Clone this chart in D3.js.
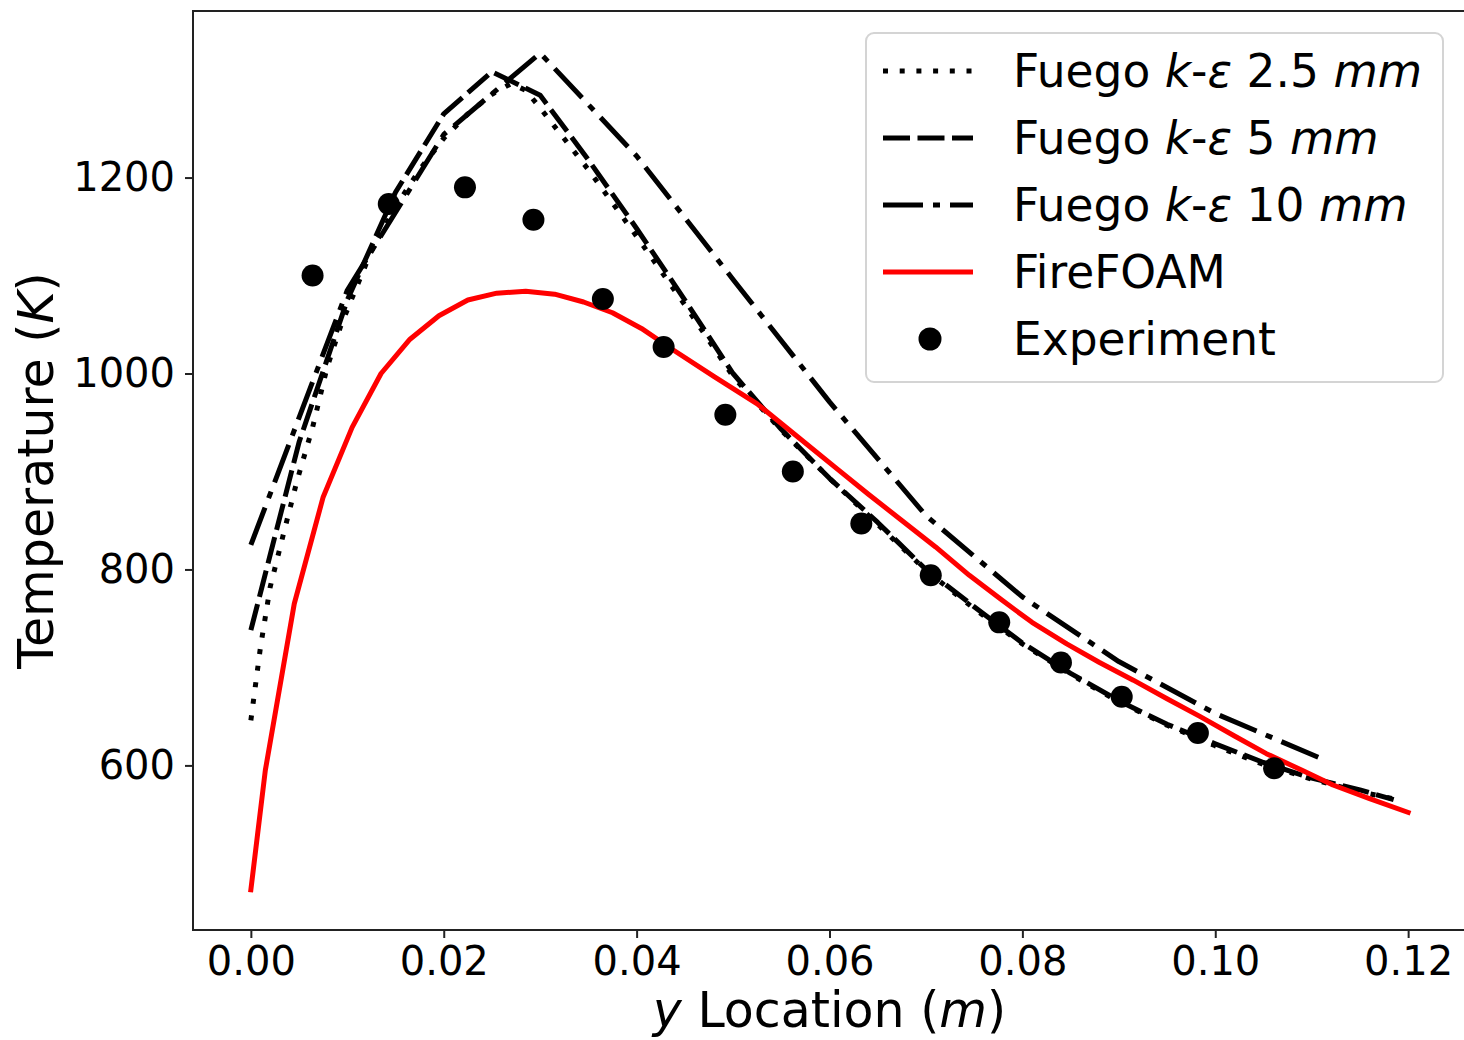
<html>
<head>
<script src="https://d3js.org/d3.v7.min.js"></script>
<style>
  body { margin: 0; background: #fff; }
  svg text { font-family: "DejaVu Sans", sans-serif; fill: #000; }
  .axis .domain { display: none; }
  .axis line { stroke: #222; stroke-width: 2; }
</style>
</head>
<body>
<svg id="chart" width="1464" height="1040"></svg>
<script>
// y location (m), temperature (K)
const fuego25 = [[0,646],[0.001,721],[0.002,782],[0.0034,837],[0.0048,891],[0.0064,945],[0.0079,1006],[0.0093,1048],[0.0107,1082],[0.0125,1125],[0.015,1170],[0.0175,1208],[0.02,1240],[0.0225,1265],[0.025,1285],[0.027,1296],[0.0285,1289],[0.03,1271],[0.035,1208],[0.04,1140],[0.045,1070],[0.05,997],[0.055,942],[0.06,893],[0.065,846],[0.07,799],[0.075,760],[0.08,724],[0.085,693],[0.09,665],[0.095,641],[0.1,620],[0.105,601],[0.11,586],[0.115,573],[0.1185,566]];
const fuego5 = [[0,738],[0.005,930],[0.01,1075],[0.015,1185],[0.02,1265],[0.025,1308],[0.03,1284],[0.035,1218],[0.04,1148],[0.045,1075],[0.05,1000],[0.055,943],[0.06,893],[0.065,848],[0.07,800],[0.075,762],[0.08,725],[0.085,694],[0.09,666],[0.095,642],[0.1,622],[0.105,603],[0.11,587],[0.115,575],[0.1185,565]];
const fuego10 = [[0,825],[0.01,1085],[0.02,1244],[0.03,1327],[0.04,1222],[0.05,1096],[0.06,971],[0.07,855],[0.08,772],[0.09,706],[0.1,653],[0.111,607]];
const fireFoam = [[0,473],[0.0015,595],[0.0045,765],[0.0075,874],[0.0105,945],[0.0135,1000],[0.0165,1035],[0.0195,1059],[0.0225,1075],[0.0255,1082],[0.0285,1084],[0.0315,1081],[0.0345,1073],[0.0375,1062],[0.0405,1046],[0.0438,1024],[0.048,997],[0.0525,969],[0.0565,937],[0.0605,905],[0.064,877],[0.0675,850],[0.071,823],[0.0745,794],[0.0777,770],[0.081,746],[0.0846,724],[0.088,705],[0.0915,687],[0.095,668],[0.0984,650],[0.102,630],[0.1053,612],[0.109,595],[0.1122,580],[0.116,566],[0.12,552]];
const experiment = [[0.0064,1100],[0.0143,1173],[0.0222,1190],[0.0293,1157],[0.0365,1076],[0.0428,1027],[0.0492,958],[0.0562,900],[0.0633,847],[0.0705,794],[0.0776,746],[0.084,705],[0.0903,670],[0.0982,633],[0.1061,597]];

const xTicks = [0, 0.02, 0.04, 0.06, 0.08, 0.10, 0.12];
const yTicks = [600, 800, 1000, 1200];

const svg = d3.select("svg#chart");
const margin = { top: 11, right: -2, bottom: 110, left: 193 };
const width = +svg.attr("width");
const height = +svg.attr("height");
const chartWidth = width - margin.left - margin.right;
const chartHeight = height - margin.top - margin.bottom;

const x = d3.scaleLinear().domain([-0.006, 0.126]).range([0, chartWidth]);
const y = d3.scaleLinear().domain([432, 1370]).range([chartHeight, 0]);

const chart = svg.append("g").attr("transform", `translate(${margin.left},${margin.top})`);

// axes
chart.append("g")
    .attr("class", "axis")
    .attr("transform", `translate(0,${chartHeight})`)
    .call(d3.axisBottom(x).tickValues(xTicks).tickFormat(d3.format(".2f")).tickSize(8).tickPadding(9))
    .selectAll("text").style("font-size", "40px");

chart.append("g")
    .attr("class", "axis")
    .call(d3.axisLeft(y).tickValues(yTicks).tickFormat(d3.format("d")).tickSize(8).tickPadding(10))
    .selectAll("text").style("font-size", "40px");

// lines
const line = d3.line().x(d => x(d[0])).y(d => y(d[1]));

const series = [
    { name: "25", data: fuego25, color: "#000", dash: "5,11.7", cap: "butt" },
    { name: "5", data: fuego5, color: "#000", dash: "27,7.5", cap: "butt" },
    { name: "10", data: fuego10, color: "#000", dash: "40,10,7,10", cap: "butt" },
    { name: "ff", data: fireFoam, color: "#ff0000", dash: null, cap: "square" }
];

chart.selectAll("path.series")
    .data(series)
    .join("path")
    .attr("class", "series")
    .attr("fill", "none")
    .attr("stroke", d => d.color)
    .attr("stroke-width", 5)
    .attr("stroke-linecap", d => d.cap)
    .attr("stroke-linejoin", "round")
    .attr("stroke-dasharray", d => d.dash)
    .attr("d", d => line(d.data));

chart.selectAll("circle.exp")
    .data(experiment)
    .join("circle")
    .attr("class", "exp")
    .attr("r", 11)
    .attr("fill", "#000")
    .attr("cx", d => x(d[0]))
    .attr("cy", d => y(d[1]));

// frame
chart.append("rect")
    .attr("width", chartWidth).attr("height", chartHeight)
    .attr("fill", "none").attr("stroke", "#222").attr("stroke-width", 2);

// axis labels
const xl = svg.append("text")
    .attr("x", margin.left + x(0.06)).attr("y", 1027)
    .attr("text-anchor", "middle").style("font-size", "49px");
xl.append("tspan").attr("font-style", "italic").text("y");
xl.append("tspan").text(" Location (");
xl.append("tspan").attr("font-style", "italic").text("m");
xl.append("tspan").text(")");

const yl = svg.append("text")
    .attr("transform", `translate(53,${margin.top + chartHeight / 2}) rotate(-90)`)
    .attr("text-anchor", "middle").style("font-size", "49px");
yl.append("tspan").text("Temperature (");
yl.append("tspan").attr("font-style", "italic").text("K");
yl.append("tspan").text(")");

// legend
const legend = svg.append("g");
legend.append("rect")
    .attr("x", 866).attr("y", 33).attr("width", 577).attr("height", 349)
    .attr("rx", 8).attr("fill", "#fff").attr("fill-opacity", 0.8)
    .attr("stroke", "#d4d4d4").attr("stroke-width", 2);

const legendItems = [
    { label: ["Fuego ", "k", "-", "ε", " 2.5 ", "mm"], s: series[0] },
    { label: ["Fuego ", "k", "-", "ε", " 5 ", "mm"], s: series[1] },
    { label: ["Fuego ", "k", "-", "ε", " 10 ", "mm"], s: series[2] },
    { label: ["FireFOAM"], s: series[3] },
    { label: ["Experiment"], s: null }
];

legendItems.forEach((item, i) => {
    const cy = 71 + i * 67;
    if (item.s) {
        legend.append("line")
            .attr("x1", 883).attr("x2", 973).attr("y1", cy).attr("y2", cy)
            .attr("stroke", item.s.color).attr("stroke-width", 5)
            .attr("stroke-dasharray", item.s.dash)
            .attr("stroke-linecap", "butt");
    } else {
        legend.append("circle").attr("cx", 930).attr("cy", cy).attr("r", 11.5).attr("fill", "#000");
    }
    const t = legend.append("text").attr("x", 1013).attr("y", cy + 16).style("font-size", "45.5px");
    item.label.forEach((part, j) => {
        const italic = part === "k" || part === "ε" || part === "mm";
        t.append("tspan").attr("font-style", italic ? "italic" : null).text(part);
    });
});
</script>
</body>
</html>
